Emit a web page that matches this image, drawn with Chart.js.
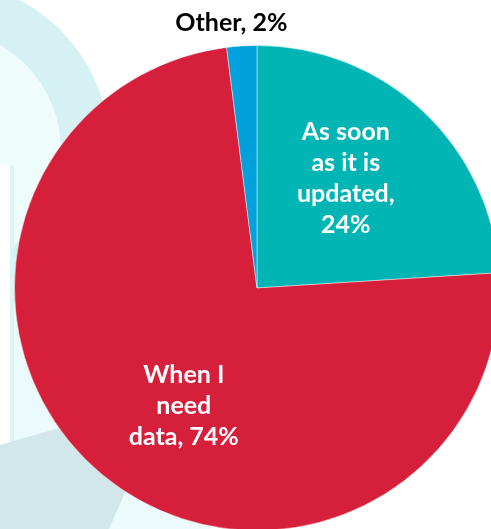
<!DOCTYPE html>
<html>
<head>
<meta charset="utf-8">
<script src="https://cdn.jsdelivr.net/npm/chart.js@4.4.1/dist/chart.umd.min.js"></script>
<style>
  html, body { margin: 0; padding: 0; width: 491px; height: 529px; overflow: hidden; background: #ffffff; }
  #wrap { position: absolute; left: 0; top: 0; width: 500px; height: 531px; }
</style>
</head>
<body>
<div id="wrap"><canvas id="c"></canvas></div>
<script>
const categories = ["As soon as it is updated", "When I need data", "Other"];
const values = [24, 74, 2];
const labelLines = [
  ["As soon", "as it is", "updated,", "24%"],
  ["When I", "need", "data, 74%"],
  ["Other, 2%"]
];
const colors = ["#02B5B5", "#D61F3A", "#02A1DB"];

const backgroundPlugin = {
  id: 'bgDecor',
  beforeDraw(chart) {
    const ctx = chart.ctx;
    ctx.save();
    ctx.fillStyle = '#ffffff';
    ctx.fillRect(0, 0, chart.width, chart.height);
    // light cyan area on the left, behind the pie
    ctx.fillStyle = '#EBFBFB';
    ctx.fillRect(10, 150, 200, chart.height - 150);
    // big arc band at the top-left
    ctx.beginPath();
    ctx.arc(-60, 150, 170, 0, Math.PI * 2);
    ctx.fillStyle = '#D6F1F3';
    ctx.fill();
    ctx.beginPath();
    ctx.arc(-60, 150, 121, 0, Math.PI * 2);
    ctx.fillStyle = '#EEFCFC';
    ctx.fill();
    // white strip at far left
    ctx.fillStyle = '#ffffff';
    ctx.fillRect(0, 165, 10, chart.height - 165);
    ctx.fillStyle = '#DDF4F4';
    ctx.fillRect(10, 165, 4, chart.height - 165);
    // grey-teal wedge bottom-left
    ctx.beginPath();
    ctx.moveTo(0, 445);
    ctx.lineTo(150, 402);
    ctx.lineTo(135, 470);
    ctx.lineTo(108, 531);
    ctx.lineTo(0, 531);
    ctx.closePath();
    ctx.fillStyle = '#D1E7E9';
    ctx.fill();
    ctx.restore();
  }
};

const labelPlugin = {
  id: 'sliceLabels',
  afterDatasetsDraw(chart, args, opts) {
    const ctx = chart.ctx;
    const meta = chart.getDatasetMeta(0);
    ctx.save();
    ctx.font = 'bold 25px Lato, "Open Sans", sans-serif';
    ctx.textAlign = 'center';
    ctx.textBaseline = 'middle';
    meta.data.forEach((arc, i) => {
      const p = arc.getProps(['x', 'y', 'startAngle', 'endAngle', 'outerRadius'], true);
      const mid = (p.startAngle + p.endAngle) / 2;
      const cfg = opts.items[i];
      const r = p.outerRadius * cfg.radius;
      const cx = p.x + Math.cos(mid) * r + cfg.dx;
      const cy = p.y + Math.sin(mid) * r + cfg.dy;
      const lines = labelLines[i];
      const lh = 31;
      ctx.fillStyle = cfg.color;
      lines.forEach((t, k) => {
        ctx.fillText(t, cx, cy + (k - (lines.length - 1) / 2) * lh);
      });
    });
    ctx.restore();
  }
};

new Chart(document.getElementById('c'), {
  type: 'pie',
  data: {
    labels: categories,
    datasets: [{
      data: values,
      backgroundColor: colors,
      borderColor: 'rgba(255,255,255,0.45)',
      borderWidth: 1
    }]
  },
  options: {
    responsive: true,
    maintainAspectRatio: false,
    animation: false,
    layout: { padding: { left: 14, top: 45, right: 0, bottom: 0 } },
    plugins: {
      legend: { display: false },
      tooltip: { enabled: false },
      sliceLabels: {
        items: [
          { radius: 0.577, dx: -7, dy: -7.5, color: '#ffffff' },
          { radius: 0.577, dx: 16, dy: 10, color: '#ffffff' },
          { radius: 1.09, dx: -9, dy: -1, color: '#000000' }
        ]
      }
    }
  },
  plugins: [backgroundPlugin, labelPlugin]
});
</script>
</body>
</html>
